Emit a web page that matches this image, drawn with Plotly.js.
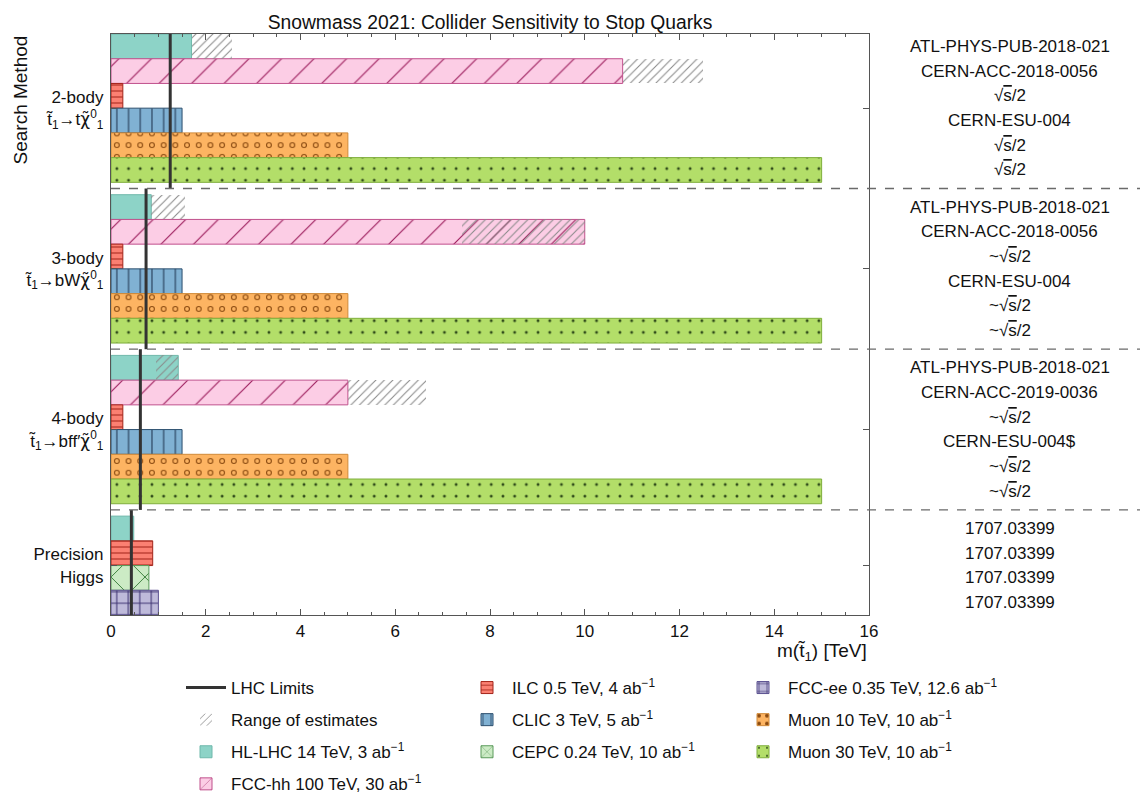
<!DOCTYPE html>
<html><head><meta charset="utf-8">
<script src="https://cdn.plot.ly/plotly-3.0.1.min.js"></script>
<style>html,body{margin:0;padding:0;background:#fff}#chart{width:1140px;height:792px}</style>
</head><body><div id="chart"></div>
<script>
// ---------------- data ----------------
const CHI = '<span style="font-family:DejaVu Sans">\u03c7\u0303</span>';
const groupNames = ['2-body', '3-body', '4-body', 'Precision Higgs'];
const groupTickText = [
  '2-body<br>t\u0303<sub>1</sub>\u2192t' + CHI + '<sup>0</sup><sub>1</sub>',
  '3-body<br>t\u0303<sub>1</sub>\u2192bW' + CHI + '<sup>0</sup><sub>1</sub>',
  '4-body<br>t\u0303<sub>1</sub>\u2192bff\u2032' + CHI + '<sup>0</sup><sub>1</sub>',
  'Precision<br>Higgs'
];
const groupRows = [
  ['HL-LHC', 'FCC-hh', 'ILC', 'CLIC', 'Muon10', 'Muon30'],
  ['HL-LHC', 'FCC-hh', 'ILC', 'CLIC', 'Muon10', 'Muon30'],
  ['HL-LHC', 'FCC-hh', 'ILC', 'CLIC', 'Muon10', 'Muon30'],
  ['HL-LHC', 'ILC', 'CEPC', 'FCC-ee']
];
// reach in TeV, one value per group (null = not shown)
const hlLhcReach  = [1.7, 0.85, 1.42, 0.48];
const fccHhReach  = [10.8, 10.0, 5.0, null];
const ilcReach    = [0.25, 0.25, 0.25, 0.88];
const clicReach   = [1.5, 1.5, 1.5, null];
const cepcReach   = [null, null, null, 0.8];
const fccEeReach  = [null, null, null, 1.0];
const muon10Reach = [5.0, 5.0, 5.0, null];
const muon30Reach = [15.0, 15.0, 15.0, null];
const lhcLimits   = [1.25, 0.74, 0.62, 0.43];
// range of estimates
const rangeFacility = ['HL-LHC', 'FCC-hh', 'HL-LHC', 'FCC-hh', 'HL-LHC', 'FCC-hh'];
const rangeGroup    = [0, 0, 1, 1, 2, 2];
const rangeLow      = [1.7, 10.8, 0.85, 7.4, 0.95, 5.0];
const rangeHigh     = [2.56, 12.5, 1.56, 10.0, 1.42, 6.65];
const SQ  = '\u221a<span style="text-decoration:overline">s</span>/2';
const TSQ = '~\u221a<span style="text-decoration:overline">s</span>/2';
const references = [
  ['ATL-PHYS-PUB-2018-021', 'CERN-ACC-2018-0056', SQ, 'CERN-ESU-004', SQ, SQ],
  ['ATL-PHYS-PUB-2018-021', 'CERN-ACC-2018-0056', TSQ, 'CERN-ESU-004', TSQ, TSQ],
  ['ATL-PHYS-PUB-2018-021', 'CERN-ACC-2019-0036', TSQ, 'CERN-ESU-004$', TSQ, TSQ],
  ['1707.03399', '1707.03399', '1707.03399', '1707.03399']
];
const legendNames = {
  'LHC': 'LHC Limits',
  'Range': 'Range of estimates',
  'HL-LHC': 'HL-LHC 14 TeV, 3 ab<sup>\u22121</sup>',
  'FCC-hh': 'FCC-hh 100 TeV, 30 ab<sup>\u22121</sup>',
  'ILC': 'ILC 0.5 TeV, 4 ab<sup>\u22121</sup>',
  'CLIC': 'CLIC 3 TeV, 5 ab<sup>\u22121</sup>',
  'CEPC': 'CEPC 0.24 TeV, 10 ab<sup>\u22121</sup>',
  'FCC-ee': 'FCC-ee 0.35 TeV, 12.6 ab<sup>\u22121</sup>',
  'Muon10': 'Muon 10 TeV, 10 ab<sup>\u22121</sup>',
  'Muon30': 'Muon 30 TeV, 10 ab<sup>\u22121</sup>'
};

// ---------------- layout helpers ----------------
const GAP = 0.5;
const slotY = [];
const groupCenter = [];
const groupEdges = [];
(function () {
  let pos = 0, prevEdge = -0.5;
  groupRows.forEach((rows, g) => {
    slotY[g] = {};
    const first = pos;
    rows.forEach(f => { slotY[g][f] = pos; pos += 1; });
    const last = pos - 1;
    groupCenter.push((first + last) / 2);
    const edge = g < groupRows.length - 1 ? last + 0.5 + GAP / 2 : last + 0.5;
    groupEdges.push([prevEdge, edge]);
    prevEdge = edge;
    pos += GAP;
  });
})();
const yMax = groupEdges[groupEdges.length - 1][1];

const FONT = 'Liberation Sans, Arial, sans-serif';

function barTrace(fac, vals, style, legend, rank) {
  const x = [], y = [];
  vals.forEach((v, g) => { if (v != null) { x.push(v); y.push(slotY[g][fac]); } });
  const pattern = style.pattern ? Object.assign({ bgcolor: style.bg, fillmode: 'replace' }, style.pattern) : { shape: '' };
  return {
    type: 'bar', orientation: 'h', name: legendNames[fac], x: x, y: y, width: 1,
    marker: { color: style.bg, line: { color: style.edge, width: 1 }, pattern: pattern },
    legend: legend, legendrank: rank, legendgroup: fac, hoverinfo: 'skip', showlegend: true
  };
}

const traces = [];
traces.push(barTrace('HL-LHC', hlLhcReach, { bg: '#8dd3c7', edge: '#6fb8ab' }, 'legend', 3));
traces.push(barTrace('FCC-hh', fccHhReach, { bg: '#fccde5', edge: '#c0508c',
  pattern: { shape: '/', fgcolor: '#9c1c5c', size: 23, solidity: 0.05 } }, 'legend', 4));
traces.push(barTrace('ILC', ilcReach, { bg: '#fb8072', edge: '#a3241a',
  pattern: { shape: '-', fgcolor: '#a3241a', size: 6, solidity: 0.17 } }, 'legend2', 1));
traces.push(barTrace('CLIC', clicReach, { bg: '#80b1d3', edge: '#2c4f6e',
  pattern: { shape: '|', fgcolor: '#1f3550', size: 11.7, solidity: 0.09 } }, 'legend2', 2));
traces.push(barTrace('CEPC', cepcReach, { bg: '#ccebc5', edge: '#5a9a5a',
  pattern: { shape: 'x', fgcolor: '#3d7f3d', size: 24, solidity: 0.08 } }, 'legend2', 3));
traces.push(barTrace('FCC-ee', fccEeReach, { bg: '#bebada', edge: '#5a5090',
  pattern: { shape: '+', fgcolor: '#3a3070', size: 11.5, solidity: 0.17 } }, 'legend3', 1));
traces.push(barTrace('Muon10', muon10Reach, { bg: '#fdb462', edge: '#d08a3a',
  pattern: { shape: '.', fgcolor: '#8a4a10', size: 11.7, solidity: 0.2 } }, 'legend3', 2));
// inner part of the rings
const ring = barTrace('Muon10', muon10Reach, { bg: 'rgba(0,0,0,0)', edge: 'rgba(0,0,0,0)',
  pattern: { shape: '.', fgcolor: '#fdb462', bgcolor: 'rgba(0,0,0,0)', size: 11.7, solidity: 0.08 } }, 'legend3', 2);
ring.showlegend = false; ring.marker.line.width = 0;
traces.push(ring);
traces.push(barTrace('Muon30', muon30Reach, { bg: '#b3de69', edge: '#7fae3c',
  pattern: { shape: '.', fgcolor: '#2f4a1a', size: 11.7, solidity: 0.05 } }, 'legend3', 3));

// range of estimates
(function () {
  const x = [], y = [], base = [];
  rangeLow.forEach((lo, i) => {
    x.push(rangeHigh[i] - lo); base.push(lo);
    y.push(slotY[rangeGroup[i]][rangeFacility[i]]);
  });
  traces.push({
    type: 'bar', orientation: 'h', name: legendNames['Range'], x: x, y: y, base: base, width: 1,
    marker: { color: 'rgba(0,0,0,0)', line: { color: 'rgba(0,0,0,0)', width: 0 },
      pattern: { shape: '/', fgcolor: '#8a8a8a', bgcolor: 'rgba(0,0,0,0)', size: 6, solidity: 0.18 } },
    legend: 'legend', legendrank: 2, legendgroup: 'Range', hoverinfo: 'skip'
  });
})();

// LHC limits
(function () {
  const x = [], y = [];
  lhcLimits.forEach((v, g) => {
    x.push(v, v, null); y.push(groupEdges[g][0], groupEdges[g][1], null);
  });
  traces.push({
    type: 'scatter', mode: 'lines', name: legendNames['LHC'], x: x, y: y,
    line: { color: '#333333', width: 3 }, legend: 'legend', legendrank: 1, legendgroup: 'LHC',
    hoverinfo: 'skip', connectgaps: false
  });
})();

// ---------------- layout ----------------
const L = 111, R = 869, T = 34, B = 615, W = 1140, H = 792;
const px2x = p => (p - L) / (R - L);
const px2y = p => (B - p) / (B - T);

const shapes = [];
for (let g = 0; g < groupEdges.length - 1; g++) {
  const e = groupEdges[g][1];
  shapes.push({ type: 'line', xref: 'paper', yref: 'y', x0: 0, x1: px2x(W), y0: e, y1: e,
    line: { color: '#6a6a6a', width: 1.3, dash: 'dash' }, layer: 'above' });
}

const annotations = [];
references.forEach((refs, g) => {
  refs.forEach((t, i) => {
    annotations.push({ xref: 'paper', yref: 'y', x: px2x(1010), y: slotY[g][groupRows[g][i]],
      text: t, showarrow: false, xanchor: 'center', yanchor: 'middle',
      font: { size: 17, color: '#111', family: FONT } });
  });
});
annotations.push({ xref: 'paper', yref: 'paper', x: 1, y: px2y(652), xanchor: 'right', yanchor: 'middle',
  text: 'm(t\u0303<sub>1</sub>) [TeV]', showarrow: false, font: { size: 19, color: '#111', family: FONT } });
annotations.push({ xref: 'paper', yref: 'paper', x: px2x(20), y: 1, xanchor: 'center', yanchor: 'top',
  textangle: -90, text: 'Search Method', showarrow: false, font: { size: 19, color: '#111', family: FONT } });

const legendCommon = {
  orientation: 'v', xanchor: 'left', yanchor: 'top', font: { size: 17, color: '#111', family: FONT },
  itemwidth: 40, tracegroupgap: 7, bgcolor: 'rgba(0,0,0,0)', traceorder: 'grouped'
};

const layout = {
  width: W, height: H,
  margin: { l: L, r: W - R, t: T, b: H - B, autoexpand: false },
  paper_bgcolor: '#fff', plot_bgcolor: '#fff',
  font: { family: FONT, color: '#111', size: 17 },
  title: { text: 'Snowmass 2021: Collider Sensitivity to Stop Quarks', font: { size: 19.3, family: FONT, color: '#111' },
    x: 0.5, xref: 'paper', xanchor: 'center', y: 1 - 22 / H, yref: 'container', yanchor: 'middle' },
  barmode: 'overlay',
  bargap: 0,
  xaxis: {
    range: [0, 16], dtick: 2, tick0: 0, ticks: 'inside', ticklen: 6, tickwidth: 1, tickcolor: '#555',
    showline: true, linecolor: '#555', linewidth: 1.2, mirror: 'allticks', showgrid: false, zeroline: false,
    tickfont: { size: 17, family: FONT, color: '#111' },
    minor: { dtick: 0.5, ticks: 'inside', ticklen: 3, tickcolor: '#555', showgrid: false }
  },
  yaxis: {
    range: [yMax, -0.5], tickmode: 'array', tickvals: groupCenter, ticktext: groupTickText,
    ticks: 'inside', ticklen: 6, tickwidth: 1, tickcolor: '#555',
    showline: true, linecolor: '#555', linewidth: 1.2, mirror: 'allticks', showgrid: false, zeroline: false,
    tickfont: { size: 17, family: FONT, color: '#111' }, ticklabelstandoff: 3
  },
  legend: Object.assign({}, legendCommon, { x: px2x(181), y: px2y(670) }),
  legend2: Object.assign({}, legendCommon, { x: px2x(462), y: px2y(670) }),
  legend3: Object.assign({}, legendCommon, { x: px2x(738), y: px2y(670) }),
  shapes: shapes,
  annotations: annotations,
  showlegend: true
};

Plotly.newPlot('chart', traces, layout, { displayModeBar: false, staticPlot: true });
</script>
</body></html>
